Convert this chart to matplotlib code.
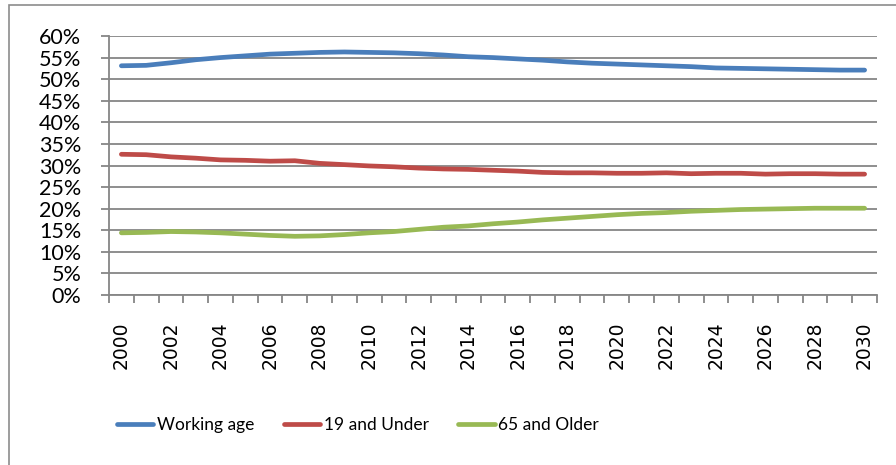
import numpy as np
import matplotlib.pyplot as plt
from matplotlib.patches import Rectangle

years = list(range(2000, 2031))

working_age = [53.1, 53.2, 53.8, 54.5, 55.0, 55.4, 55.8, 56.0, 56.2, 56.3, 56.2,
               56.1, 55.9, 55.6, 55.2, 55.0, 54.7, 54.4, 54.0, 53.7, 53.5,
               53.3, 53.1, 52.9, 52.6, 52.5, 52.4, 52.3, 52.2, 52.1, 52.1]
under_19 = [32.6, 32.5, 32.0, 31.7, 31.3, 31.2, 31.0, 31.1, 30.5, 30.2, 29.9,
            29.7, 29.4, 29.2, 29.1, 28.9, 28.7, 28.4, 28.3, 28.3, 28.2,
            28.2, 28.3, 28.1, 28.2, 28.2, 28.0, 28.1, 28.1, 28.0, 28.0]
older_65 = [14.4, 14.5, 14.7, 14.6, 14.4, 14.1, 13.8, 13.6, 13.7, 14.0, 14.4,
            14.7, 15.2, 15.7, 16.0, 16.5, 16.9, 17.4, 17.8, 18.2, 18.6,
            18.9, 19.1, 19.4, 19.6, 19.8, 19.9, 20.0, 20.1, 20.1, 20.1]

series = [("Working age", working_age, "#4A7EBB"),
          ("19 and Under", under_19, "#BE4B48"),
          ("65 and Older", older_65, "#98B954")]

grey = "#868686"

fig = plt.figure(figsize=(8.96, 4.65), dpi=100)
ax = fig.add_axes([109 / 896, 1 - 295 / 465, 768 / 896, 259 / 465])

x = np.arange(len(years)) + 0.5
for name, vals, color in series:
    ax.plot(x, np.array(vals) / 100, color=color, lw=3.4, label=name,
            solid_capstyle="round", solid_joinstyle="round")

ax.set_xlim(0, len(years))
ax.set_ylim(0, 0.6)

# y axis: gridlines every 5%
yt = np.arange(0, 0.61, 0.05)
ax.set_yticks(yt)
ax.set_yticklabels([f"{round(v * 100)}%" for v in yt], fontfamily="Lato", fontsize=15.5)
ax.grid(axis="y", color=grey, lw=1.3)
ax.set_axisbelow(True)

# x axis: tick marks between categories, labels on every second year
ax.set_xticks(np.arange(len(years) + 1))
ax.set_xticklabels([])
ax.set_xticks(x[::2], minor=True)
ax.set_xticklabels([str(y) for y in years[::2]], minor=True, rotation=90,
                   fontfamily="DejaVu Sans", fontsize=13.5)
ax.tick_params(axis="x", which="major", length=6, width=1.3, color=grey, direction="out")
ax.tick_params(axis="x", which="minor", length=0, pad=19)
ax.tick_params(axis="y", length=6, width=1.3, color=grey, pad=14)

for side in ["top", "right"]:
    ax.spines[side].set_visible(False)
for side in ["left", "bottom"]:
    ax.spines[side].set_color(grey)
    ax.spines[side].set_linewidth(1.3)

fig.legend(loc="center left", bbox_to_anchor=(117 / 896, 1 - 425 / 465), ncol=3,
           frameon=False, prop={"family": "Lato", "size": 12.5}, handlelength=2.1,
           handletextpad=0.2, columnspacing=1.7, borderpad=0, borderaxespad=0)

# chart area border
fig.patches.append(Rectangle((9 / 896, -0.1), 1.0, 1.1 - 5 / 465,
                             transform=fig.transFigure, fill=False,
                             edgecolor="#8c8c8c", lw=1.2))

fig.savefig("out.png", dpi=100)
